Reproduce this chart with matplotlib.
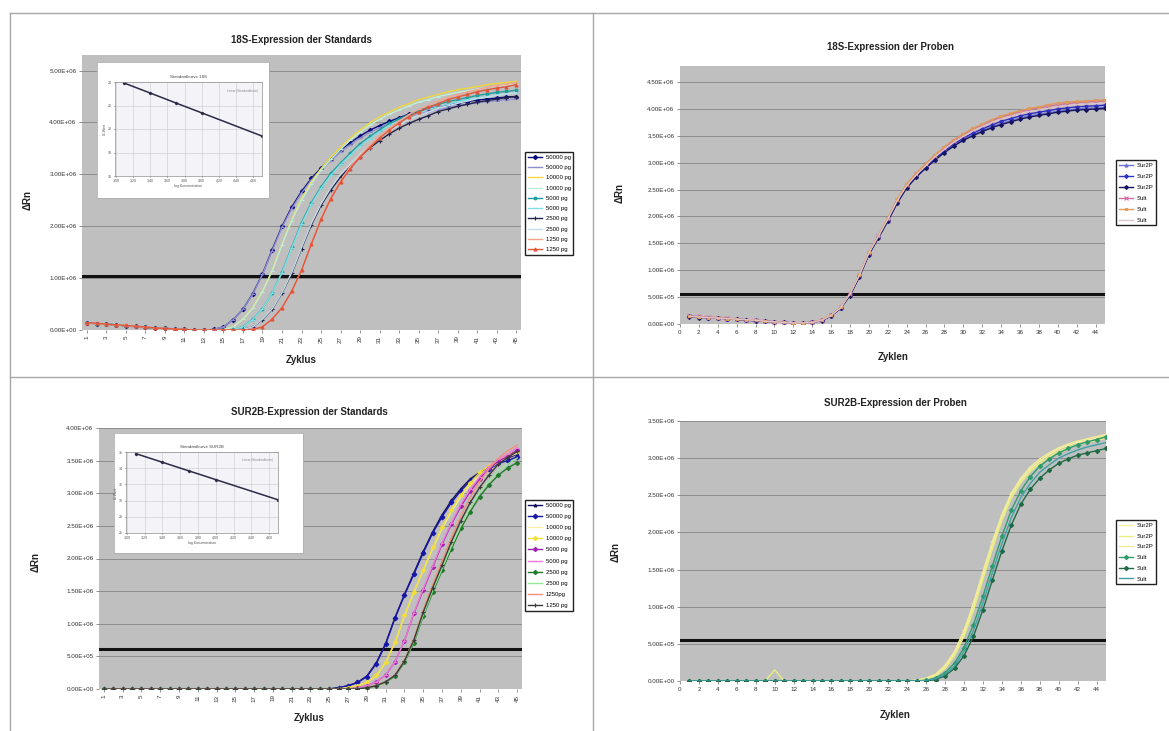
import matplotlib
matplotlib.use('Agg')
import matplotlib.pyplot as plt
from matplotlib.lines import Line2D
from matplotlib.ticker import FuncFormatter, MultipleLocator

plt.rcParams['font.family'] = ['Liberation Sans', 'DejaVu Sans']

W, H = 1169, 731
UNIT = 1e4  # alle Rn-Werte unten in Einheiten von 1e4

cycles = list(range(1, 46))

# ---------------- 18S Standards ----------------
std18_labels = ['50000 pg', '50000 pg', '10000 pg', '10000 pg', '5000 pg',
                '5000 pg', '2500 pg', '2500 pg', '1250 pg', '1250 pg']
std18_50k_a = [13, 12, 11, 10, 8, 7, 5, 4, 3, 2, 1, 0, 0, 1, 6, 20, 40, 70, 108, 155, 200, 237, 267,
               292, 312, 330, 347, 361, 374, 385, 394, 402, 409, 416, 421, 426, 430, 434, 437, 440,
               443, 445, 447, 449, 450]
std18_50k_b = [12, 11, 10, 9, 8, 6, 5, 4, 3, 2, 1, 0, 0, 1, 6, 20, 40, 69, 107, 153, 198, 234, 264,
               289, 309, 326, 343, 357, 370, 381, 390, 398, 404, 411, 416, 421, 425, 429, 432, 435,
               438, 440, 442, 444, 445]
std18_10k_a = [12, 11, 10, 9, 8, 7, 5, 4, 3, 2, 1, 0, 0, 0, 1, 6, 21, 43, 75, 115, 165, 213, 253,
               285, 311, 333, 352, 370, 385, 399, 411, 420, 429, 436, 444, 449, 454, 459, 463, 466,
               469, 473, 475, 477, 479]
std18_10k_b = [13, 12, 11, 10, 9, 7, 6, 4, 3, 2, 1, 0, 0, 0, 1, 6, 21, 42, 74, 114, 164, 211, 250,
               282, 308, 329, 348, 366, 381, 395, 406, 416, 424, 432, 439, 444, 450, 454, 458, 461,
               464, 468, 470, 472, 474]
std18_5k_a = [13, 12, 11, 10, 8, 7, 5, 4, 3, 2, 1, 0, 0, 0, 0, 1, 6, 21, 41, 72, 112, 160, 207,
              245, 276, 302, 322, 341, 359, 373, 386, 398, 407, 415, 423, 430, 435, 440, 444, 448,
              452, 455, 458, 460, 462]
std18_5k_b = [12, 11, 10, 9, 8, 7, 5, 4, 3, 2, 1, 0, 0, 0, 0, 1, 6, 20, 41, 72, 110, 158, 204,
              242, 273, 298, 319, 337, 355, 369, 382, 394, 403, 411, 418, 425, 430, 435, 440, 444,
              447, 450, 453, 455, 457]
std18_2500_a = [13, 12, 11, 10, 8, 7, 5, 4, 3, 2, 1, 0, 0, 0, 0, 0, 1, 6, 20, 40, 71, 109, 157,
                202, 240, 270, 295, 315, 334, 351, 365, 378, 389, 398, 406, 413, 421, 426, 431, 435,
                439, 442, 445, 448, 450]
std18_2500_b = [12, 12, 11, 10, 9, 7, 6, 4, 3, 2, 1, 0, 0, 0, 0, 0, 1, 6, 21, 41, 72, 111, 159,
                205, 243, 274, 300, 320, 339, 356, 371, 384, 395, 405, 413, 420, 427, 432, 437, 441,
                446, 449, 452, 455, 457]
std18_1250_a = [13, 12, 11, 10, 8, 7, 5, 4, 3, 2, 1, 0, 0, 0, 0, 0, 0, 1, 6, 22, 43, 75, 116,
                167, 216, 255, 288, 315, 336, 356, 374, 389, 403, 415, 425, 433, 441, 448, 454, 459,
                463, 468, 471, 474, 477]
std18_1250_b = [14, 13, 11, 10, 9, 7, 6, 4, 3, 2, 1, 0, 0, 0, 0, 0, 0, 1, 6, 21, 43, 75, 115,
                165, 213, 253, 285, 311, 333, 352, 370, 385, 399, 411, 420, 429, 436, 444, 449, 454,
                459, 463, 466, 469, 473]
std18_series = [std18_50k_a, std18_50k_b, std18_10k_a, std18_10k_b, std18_5k_a, std18_5k_b,
                std18_2500_a, std18_2500_b, std18_1250_a, std18_1250_b]

# Standardkurve 18S (Inset)
std18_logc = [3.10, 3.40, 3.70, 4.00, 4.70]
std18_ct = [23.9, 23.06, 22.21, 21.37, 19.4]

# ---------------- 18S Proben ----------------
prob18_labels = ['Sur2P', 'Sur2P', 'Sur2P', 'Sult', 'Sult', 'Sult']
prob18_1 = [15, 13, 12, 11, 10, 9, 8, 6, 5, 4, 3, 2, 2, 3, 7, 15, 29, 54, 89, 130, 161, 192, 226,
            254, 274, 290, 306, 320, 333, 343, 352, 360, 367, 373, 378, 383, 387, 390, 393, 396,
            398, 400, 401, 402, 403]
prob18_2 = [14, 13, 12, 11, 10, 9, 8, 7, 5, 4, 3, 2, 2, 3, 7, 16, 30, 55, 90, 131, 162, 193, 227,
            255, 275, 292, 308, 322, 335, 346, 355, 363, 370, 377, 382, 387, 391, 394, 397, 400,
            402, 404, 405, 406, 407]
prob18_3 = [13, 12, 12, 11, 10, 9, 7, 6, 5, 4, 3, 2, 2, 3, 6, 15, 29, 53, 88, 129, 160, 191, 225,
            253, 273, 290, 305, 319, 331, 342, 350, 358, 365, 371, 376, 381, 385, 388, 391, 394,
            396, 398, 399, 400, 401]
prob18_4 = [15, 14, 13, 12, 11, 9, 8, 7, 6, 4, 3, 2, 2, 3, 7, 16, 31, 56, 91, 133, 164, 196, 230,
            259, 279, 297, 313, 328, 341, 352, 362, 370, 378, 385, 390, 395, 399, 402, 405, 408,
            410, 412, 413, 414, 415]
prob18_5 = [14, 13, 12, 11, 10, 9, 8, 7, 5, 4, 3, 2, 2, 3, 8, 17, 31, 57, 92, 134, 165, 197, 232,
            261, 281, 298, 315, 330, 343, 354, 364, 372, 380, 387, 392, 397, 401, 404, 408, 411,
            413, 414, 415, 416, 417]
prob18_6 = [14, 13, 12, 11, 10, 9, 8, 7, 5, 4, 3, 2, 2, 3, 7, 16, 30, 56, 91, 132, 163, 195, 229,
            257, 277, 294, 311, 325, 338, 349, 359, 367, 375, 381, 386, 391, 395, 398, 401, 404,
            406, 408, 409, 410, 411]
prob18_series = [prob18_1, prob18_2, prob18_3, prob18_4, prob18_5, prob18_6]

# ---------------- SUR2B Standards ----------------
stdsur_labels = ['50000 pg', '50000 pg', '10000 pg', '10000 pg', '5000 pg',
                 '5000 pg', '2500 pg', '2500 pg', '1250pg', '1250 pg']
stdsur_50k_a = [0, 0, 0, 0, 0, 0, 0, 0, 0, 0, 0, 0, 0, 0, 0, 0, 0, 0, 0, 0, 0, 0, 0, 0, 0,
                2, 5, 10, 20, 40, 70, 110, 145, 178, 211, 241, 267, 289, 307, 322, 332, 340, 349, 354, 360]
stdsur_50k_b = [0, 0, 0, 0, 0, 0, 0, 0, 0, 0, 0, 0, 0, 0, 0, 0, 0, 0, 0, 0, 0, 0, 0, 0, 0,
                2, 5, 10, 19, 39, 69, 109, 144, 176, 209, 239, 264, 286, 304, 319, 329, 337, 346, 350, 356]
stdsur_10k_a = [0, 0, 0, 0, 0, 0, 0, 0, 0, 0, 0, 0, 0, 0, 0, 0, 0, 0, 0, 0, 0, 0, 0, 0, 0, 0,
                2, 5, 10, 20, 41, 71, 112, 148, 182, 215, 246, 272, 295, 313, 328, 339, 347, 356, 361]
stdsur_10k_b = [0, 0, 0, 0, 0, 0, 0, 0, 0, 0, 0, 0, 0, 0, 0, 0, 0, 0, 0, 0, 0, 0, 0, 0, 0, 0,
                2, 5, 10, 21, 41, 72, 113, 149, 183, 217, 248, 275, 298, 316, 332, 342, 350, 359, 365]
stdsur_5k_a = [0, 0, 0, 0, 0, 0, 0, 0, 0, 0, 0, 0, 0, 0, 0, 0, 0, 0, 0, 0, 0, 0, 0, 0, 0, 0, 0,
               2, 5, 11, 21, 42, 74, 116, 152, 187, 222, 253, 280, 303, 322, 338, 349, 357, 366]
stdsur_5k_b = [0, 0, 0, 0, 0, 0, 0, 0, 0, 0, 0, 0, 0, 0, 0, 0, 0, 0, 0, 0, 0, 0, 0, 0, 0, 0, 0,
               2, 5, 11, 21, 42, 74, 117, 154, 189, 224, 255, 283, 306, 325, 341, 352, 360, 370]
stdsur_2500_a = [0, 0, 0, 0, 0, 0, 0, 0, 0, 0, 0, 0, 0, 0, 0, 0, 0, 0, 0, 0, 0, 0, 0, 0, 0, 0, 0, 0,
                 2, 5, 10, 20, 41, 71, 112, 148, 182, 215, 246, 272, 295, 313, 328, 339, 347]
stdsur_2500_b = [0, 0, 0, 0, 0, 0, 0, 0, 0, 0, 0, 0, 0, 0, 0, 0, 0, 0, 0, 0, 0, 0, 0, 0, 0, 0, 0, 0,
                 2, 5, 10, 21, 42, 73, 114, 151, 185, 219, 251, 278, 301, 319, 335, 345, 354]
stdsur_1250_a = [0, 0, 0, 0, 0, 0, 0, 0, 0, 0, 0, 0, 0, 0, 0, 0, 0, 0, 0, 0, 0, 0, 0, 0, 0, 0, 0, 0,
                 2, 6, 11, 22, 44, 77, 121, 160, 196, 232, 265, 294, 318, 338, 354, 365, 374]
stdsur_1250_b = [0, 0, 0, 0, 0, 0, 0, 0, 0, 0, 0, 0, 0, 0, 0, 0, 0, 0, 0, 0, 0, 0, 0, 0, 0, 0, 0, 0,
                 2, 5, 11, 21, 43, 75, 118, 155, 190, 226, 258, 286, 309, 328, 345, 355, 364]
stdsur_series = [stdsur_50k_a, stdsur_50k_b, stdsur_10k_a, stdsur_10k_b, stdsur_5k_a, stdsur_5k_b,
                 stdsur_2500_a, stdsur_2500_b, stdsur_1250_a, stdsur_1250_b]

# Standardkurve SUR2B (Inset)
stdsur_logc = [3.10, 3.40, 3.70, 4.00, 4.70]
stdsur_ct = [35.8, 34.73, 33.66, 32.59, 30.1]

# ---------------- SUR2B Proben ----------------
probsur_labels = ['Sur2P', 'Sur2P', 'Sur2P', 'Sult', 'Sult', 'Sult']
probsur_1 = [0, 0, 0, 0, 0, 0, 0, 0, 0, 0, 0, 0, 0, 0, 0, 0, 0, 0, 0, 0, 0, 0, 0, 0,
             1, 3, 8, 19, 37, 64, 100, 142, 183, 220, 250, 270, 285, 296, 305, 312, 317, 321, 324, 327, 330]
probsur_2 = [0, 0, 0, 0, 0, 0, 0, 0, 0, 15, 0, 0, 0, 0, 0, 0, 0, 0, 0, 0, 0, 0, 0, 0,
             1, 3, 7, 17, 34, 60, 95, 137, 178, 216, 246, 267, 282, 293, 302, 309, 314, 318, 321, 324, 327]
probsur_3 = [0, 0, 0, 0, 0, 0, 0, 0, 0, 0, 0, 0, 0, 0, 0, 0, 0, 0, 0, 0, 0, 0, 0, 0,
             1, 4, 9, 21, 40, 68, 105, 147, 188, 224, 253, 273, 288, 299, 307, 314, 319, 323, 326, 329, 332]
probsur_4 = [0, 0, 0, 0, 0, 0, 0, 0, 0, 0, 0, 0, 0, 0, 0, 0, 0, 0, 0, 0, 0, 0, 0, 0, 0,
             1, 4, 11, 24, 45, 76, 114, 155, 195, 230, 256, 275, 289, 299, 307, 313, 318, 322, 325, 329]
probsur_5 = [0, 0, 0, 0, 0, 0, 0, 0, 0, 0, 0, 0, 0, 0, 0, 0, 0, 0, 0, 0, 0, 0, 0, 0, 0, 0,
             2, 7, 17, 34, 60, 96, 136, 175, 210, 238, 258, 273, 284, 293, 299, 304, 307, 310, 313]
probsur_6 = [0, 0, 0, 0, 0, 0, 0, 0, 0, 0, 0, 0, 0, 0, 0, 0, 0, 0, 0, 0, 0, 0, 0, 0, 0,
             1, 3, 9, 20, 40, 68, 105, 146, 185, 220, 247, 266, 281, 291, 300, 306, 311, 315, 318, 321]
probsur_series = [probsur_1, probsur_2, probsur_3, probsur_4, probsur_5, probsur_6]

# Farben / Marker je Reihe
sty_std18 = [('#0a0a78', 'D', 2.2), ('#8f8fcf', '_', 3), ('#f0d838', None, 0), ('#bfeed8', '_', 3),
             ('#1e9e9e', 'o', 2.0), ('#7fdfe6', '_', 3), ('#22224a', '+', 3), ('#c8dce8', None, 0),
             ('#f2a58e', '_', 3), ('#e2553a', '^', 2.2)]
sty_prob18 = [('#7070d8', '^', 2.2), ('#3030c0', 'D', 2.0), ('#141460', 'D', 2.0),
              ('#d070a0', 'x', 2.2), ('#e09a5a', 's', 1.8), ('#dcc4c8', None, 0)]
sty_stdsur = [('#10105a', '^', 2.0), ('#1818a8', 'D', 2.4), ('#f6f0a8', None, 0), ('#f2de3a', 'D', 2.2),
              ('#a020b0', 'D', 2.2), ('#f07ad8', '_', 3), ('#1f7a2a', 'D', 2.2), ('#98e898', None, 0),
              ('#f0907a', None, 0), ('#3a3a3a', '+', 3)]
sty_probsur = [('#f6f2a0', None, 0), ('#e8f07c', None, 0), ('#f2ec9a', '_', 3),
               ('#2f9a6a', 'D', 2.2), ('#1f6a44', 'D', 2.2), ('#40a0a8', None, 0)]


def rect(x0, y0, x1, y1):
    return [x0 / W, 1 - y1 / H, (x1 - x0) / W, (y1 - y0) / H]


sci = FuncFormatter(lambda v, p: '%.2E' % v)

fig = plt.figure(figsize=(11.69, 7.31), dpi=100)

# Tabellenrahmen
for xs, ys in [((10, W), (13, 13)), ((10, 10), (13, H)), ((593, 593), (13, H)), ((10, W), (377, 377))]:
    fig.add_artist(Line2D([x / W for x in xs], [1 - y / H for y in ys], color='#a8a8a8', lw=1.0))


def panel(box, series, labels, styles, x, ylim, ystep, thr, categorical, leg_xy, leg_sp):
    ax = fig.add_axes(rect(*box))
    ax.set_facecolor('#bfbfbf')
    for s, lab, (c, m, ms) in zip(series, labels, styles):
        ax.plot(x, [v * UNIT for v in s], color=c, lw=1.0, marker=m, ms=ms,
                mew=0.8, label=lab, zorder=3)
    ax.axhline(thr, color='#111111', lw=2.2, zorder=2)
    ax.set_ylim(*ylim)
    ax.yaxis.set_major_locator(MultipleLocator(ystep))
    ax.yaxis.set_major_formatter(sci)
    ax.yaxis.grid(True, color='#8c8c8c', lw=0.7)
    ax.set_axisbelow(True)
    for sp in ax.spines.values():
        sp.set_visible(False)
    ax.tick_params(length=2, width=0.6, color='#808080', labelsize=4.5, pad=2,
                   labelcolor='#333333')
    if categorical:
        ax.set_xlim(0.5, 45.5)
        ax.set_xticks(x[::2])
        ax.set_xticklabels([str(c) for c in x[::2]], rotation=90)
    else:
        ax.set_xlim(0, 45)
        ax.xaxis.set_major_locator(MultipleLocator(2))
    ax.legend(loc='upper left', bbox_to_anchor=(leg_xy[0] / W, 1 - leg_xy[1] / H),
              bbox_transform=fig.transFigure, fontsize=4.3, frameon=True, fancybox=False,
              edgecolor='#222222', framealpha=1, borderpad=0.45, labelspacing=leg_sp,
              handlelength=2.4, handletextpad=0.6, borderaxespad=0)
    return ax


def inset(box, inner, title, logc, ct, ylim, ystep):
    b = fig.add_axes(rect(*box))
    b.set_xticks([])
    b.set_yticks([])
    b.set_facecolor('white')
    for sp in b.spines.values():
        sp.set_color('#b0b0b0')
        sp.set_linewidth(0.6)
    ia = fig.add_axes(rect(*inner))
    ia.set_facecolor('#f4f4f8')
    ia.plot(logc, ct, color='#2a2a48', lw=1.1, marker='D', ms=1.2)
    ia.set_xlim(2.99, 4.7)
    ia.set_ylim(*ylim)
    ia.yaxis.set_major_locator(MultipleLocator(ystep))
    ia.xaxis.set_major_locator(MultipleLocator(0.2))
    ia.xaxis.set_major_formatter(FuncFormatter(lambda v, p: ('%.2f' % v).replace('.', ',')))
    ia.grid(True, color='#c8c8d0', lw=0.4)
    for sp in ia.spines.values():
        sp.set_color('#909090')
        sp.set_linewidth(0.5)
    ia.tick_params(length=1, width=0.4, labelsize=2.6, pad=1, labelcolor='#555555')
    ia.set_ylabel('Ct-Wert', fontsize=2.6, labelpad=1, color='#555555')
    ia.set_xlabel('log Konzentration', fontsize=2.6, labelpad=1, color='#555555')
    ia.set_title(title, fontsize=3.2, pad=3, color='#444444')
    ia.text(0.97, 0.93, 'Linear (Standardkurve)', transform=ia.transAxes, ha='right',
            va='top', fontsize=2.2, color='#8a8a8a')


# 18S Standards
panel((82, 55, 521, 330), std18_series, std18_labels, sty_std18, cycles, (0, 5.3e6), 1e6,
      1.05e6, True, (525, 152), 0.85)
inset((97, 62, 269, 198), (115, 82, 262, 176), 'Standardkurve 18S', std18_logc, std18_ct,
      (16, 24), 2)

# 18S Proben
panel((680, 66, 1105, 324), prob18_series, prob18_labels, sty_prob18, cycles, (0, 4.8e6), 5e5,
      0.55e6, False, (1116, 160), 0.97)

# SUR2B Standards
panel((99, 428, 522, 689), stdsur_series, stdsur_labels, sty_stdsur, cycles, (0, 4.0e6), 5e5,
      0.615e6, True, (525, 500), 1.0)
inset((114, 433, 303, 553), (126, 452, 278, 533), 'Standardkurve SUR2B', stdsur_logc, stdsur_ct,
      (26, 36), 2)

# SUR2B Proben
panel((680, 421, 1106, 681), probsur_series, probsur_labels, sty_probsur, cycles, (0, 3.5e6), 5e5,
      0.55e6, False, (1116, 520), 0.93)

# Titel und Achsenbeschriftungen
texts = [
    (301, 40, '18S-Expression der Standards', 0), (891, 47, '18S-Expression der Proben', 0),
    (309, 412, 'SUR2B-Expression der Standards', 0), (895, 403, 'SUR2B-Expression der Proben', 0),
    (301, 360, 'Zyklus', 0), (893, 357, 'Zyklen', 0), (309, 718, 'Zyklus', 0), (895, 715, 'Zyklen', 0),
    (28, 200, 'ΔRn', 90), (620, 193, 'ΔRn', 90), (36, 562, 'ΔRn', 90), (616, 552, 'ΔRn', 90),
]
for x, y, t, rot in texts:
    fig.text(x / W, 1 - y / H, t, ha='center', va='center', rotation=rot, fontsize=7,
             fontweight='bold', color='#222222')

fig.savefig('out.png', dpi=100, facecolor='white')
